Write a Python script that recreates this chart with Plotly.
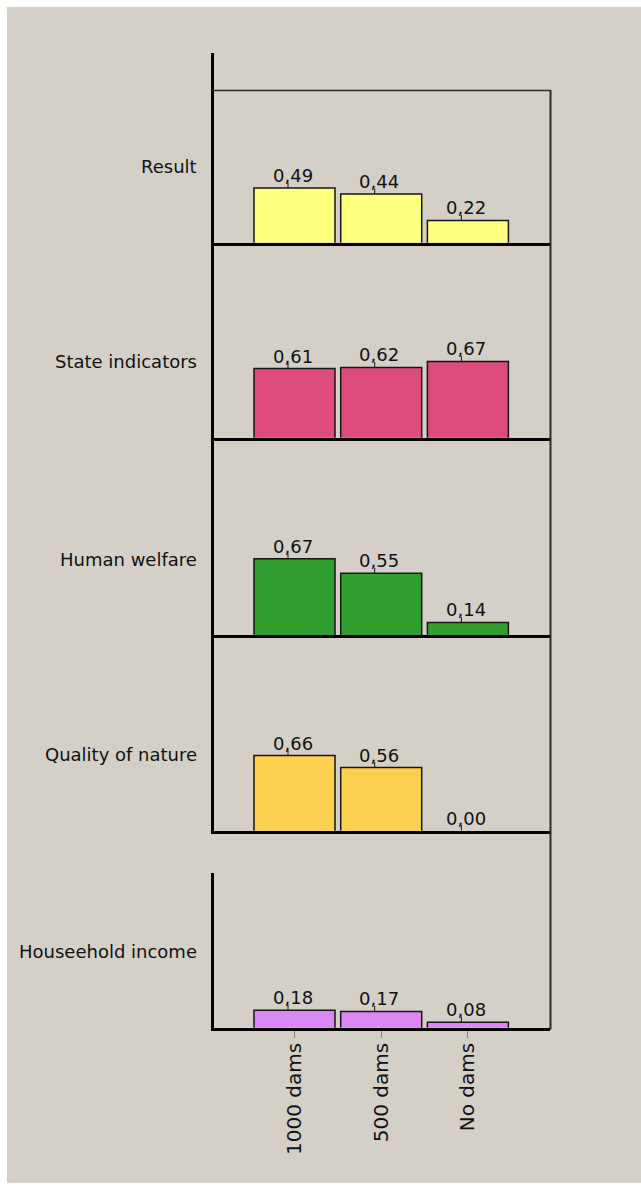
import plotly.graph_objects as go

# ---- data -------------------------------------------------------------
categories = ["1000 dams", "500 dams", "No dams"]
indicators = ["Result", "State indicators", "Human welfare",
              "Quality of nature", "Houseehold income"]

result = [0.49, 0.44, 0.22]
state_indicators = [0.61, 0.62, 0.67]
human_welfare = [0.67, 0.55, 0.14]
quality_of_nature = [0.66, 0.56, 0.00]
household_income = [0.18, 0.17, 0.08]

series = [result, state_indicators, human_welfare, quality_of_nature, household_income]
bar_colors = ["#FFFF80", "#DE4C7E", "#309F30", "#FCD150", "#DC88F2"]

# ---- geometry (pixels of the 641 x 1185 page) ---------------------------
W, H = 641, 1185
BG = "#D4D0C8"
FONT = "DejaVu Sans"
SCALE = 120.0                      # pixels per unit of value
OFFSET = 4.0 / SCALE               # zero sits just under the thick baseline
baselines = [244.3, 439.3, 636.7, 832.3, 1029.3]
panel_tops = [53.0, None, None, None, 873.0]
x_left, x_right = 213.5, 550.0
bar_pitch = 86.7                   # pixels between category centres
first_centre = 294.5

def fy(px):
    return 1 - px / H

def fx(px):
    return px / W

x_lo = -(first_centre - x_left) / bar_pitch
x_hi = 2 + (x_right - (first_centre + 2 * bar_pitch)) / bar_pitch
bar_width = 81.0 / bar_pitch

fig = go.Figure()
layout = dict(
    width=W, height=H,
    margin=dict(l=0, r=0, t=0, b=0),
    paper_bgcolor="white",
    plot_bgcolor="rgba(0,0,0,0)",
    showlegend=False,
    font=dict(family=FONT, color="#111111"),
)

shapes = [
    # grey window area
    dict(type="rect", xref="paper", yref="paper",
         x0=fx(7), x1=1, y0=fy(1183), y1=fy(7),
         fillcolor=BG, line=dict(width=0), layer="below"),
    # thin frame: top and right
    dict(type="line", xref="paper", yref="paper",
         x0=fx(212), x1=fx(551), y0=fy(90.5), y1=fy(90.5),
         line=dict(color="#2a2a2a", width=1.5)),
    dict(type="line", xref="paper", yref="paper",
         x0=fx(550.5), x1=fx(550.5), y0=fy(1029.5), y1=fy(90),
         line=dict(color="#2a2a2a", width=2)),
]
annotations = []

def fmt(v):
    return f"{v:.2f}".replace(".", ",")

for k, (vals, col) in enumerate(zip(series, bar_colors)):
    n = "" if k == 0 else str(k + 1)
    bottom = baselines[k] - 1.5
    top = panel_tops[k] if panel_tops[k] is not None else baselines[k - 1] - 1.5
    hpx = bottom - top
    xa, ya = "x" + n, "y" + n
    idx = list(range(len(categories)))

    fig.add_trace(go.Bar(
        x=idx, y=vals, width=bar_width, xaxis=xa, yaxis=ya,
        marker=dict(color=col, line=dict(color="#151515", width=1.5)),
        hoverinfo="skip",
    ))

    # short leader from each value label down to its bar
    lx, ly = [], []
    for i, v in zip(idx, vals):
        base = max(v, OFFSET)
        lx += [i - 0.075, i - 0.075, None]
        ly += [base, base + 5.5 / SCALE, None]
    fig.add_trace(go.Scatter(
        x=lx, y=ly, mode="lines", xaxis=xa, yaxis=ya,
        line=dict(color="#111111", width=1), hoverinfo="skip",
        cliponaxis=False,
    ))

    # value labels above the bars
    for i, v in zip(idx, vals):
        annotations.append(dict(
            xref=xa, yref=ya, x=i - 0.02, y=max(v, OFFSET),
            xanchor="center", yanchor="bottom", yshift=0, showarrow=False,
            text=fmt(v), font=dict(family=FONT, size=18, color="#111111"),
        ))

    last = k == len(series) - 1
    layout["xaxis" + n] = dict(
        domain=[fx(x_left), fx(x_right)], anchor=ya,
        range=[x_lo, x_hi], fixedrange=True,
        showline=True, linecolor="#000000", linewidth=3,
        showgrid=False, zeroline=False,
        tickmode="array", tickvals=idx, ticktext=categories,
        showticklabels=last,
        ticks="outside" if last else "", ticklen=7, tickwidth=1,
        tickcolor="#808080", tickangle=-90, ticklabelstandoff=-3,
        tickfont=dict(family=FONT, size=20, color="#111111"),
    )
    layout["yaxis" + n] = dict(
        domain=[fy(bottom), fy(top)], anchor=xa,
        range=[OFFSET, OFFSET + hpx / SCALE], fixedrange=True,
        showline=True, linecolor="#000000", linewidth=3,
        showgrid=False, zeroline=False, showticklabels=False, ticks="",
    )

    annotations.append(dict(
        xref="paper", yref="paper", x=fx(199), y=fy(baselines[k] - 77.5),
        xanchor="right", yanchor="middle", showarrow=False,
        text=indicators[k], font=dict(family=FONT, size=18, color="#111111"),
    ))

layout["shapes"] = shapes
layout["annotations"] = annotations
fig.update_layout(**layout)
fig.write_html("out.html")
